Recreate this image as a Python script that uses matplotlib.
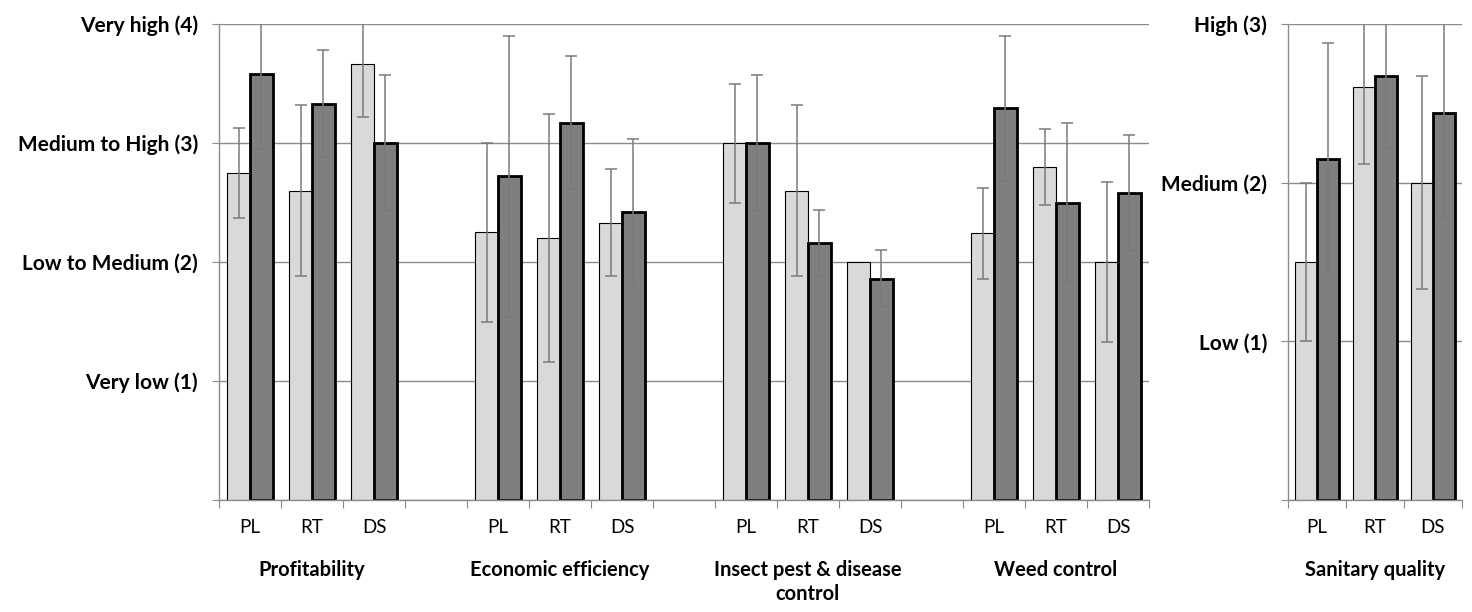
import numpy as np
import matplotlib
matplotlib.use("Agg")
import matplotlib.pyplot as plt

plt.rcParams['font.family'] = ['Lato', 'DejaVu Sans']

# Data (mean score and error, light/dark series)
groups = ['Profitability', 'Economic efficiency', 'Insect pest & disease\ncontrol', 'Weed control']
systems = ['PL', 'RT', 'DS']

light_mean = [2.75, 2.60, 3.66, 2.25, 2.20, 2.33, 3.00, 2.60, 2.00, 2.24, 2.80, 2.00]
light_err = [0.38, 0.72, 0.44, 0.75, 1.04, 0.45, 0.50, 0.72, 0.0, 0.38, 0.32, 0.67]
dark_mean = [3.58, 3.33, 3.00, 2.72, 3.17, 2.42, 3.00, 2.16, 1.86, 3.29, 2.50, 2.58]
dark_err = [0.63, 0.45, 0.57, 1.18, 0.56, 0.61, 0.57, 0.28, 0.24, 0.61, 0.67, 0.49]

left_levels = ['', 'Very low (1)', 'Low to Medium (2)', 'Medium to High (3)', 'Very high (4)']

san_light_mean = [1.50, 2.60, 2.00]
san_light_err = [0.50, 0.48, 0.67]
san_dark_mean = [2.15, 2.67, 2.44]
san_dark_err = [0.73, 0.45, 0.66]
san_label = 'Sanitary quality'
right_levels = ['', 'Low (1)', 'Medium (2)', 'High (3)']

light_col = '#d9d9d9'
dark_col = '#7f7f7f'
grid_col = '#8c8c8c'
err_col = '#7a7a7a'
W = 1472
H = 612


def style_axis(ax, ymax, levels, nslots):
    ax.set_ylim(0, ymax)
    ax.set_yticks(range(ymax + 1))
    ax.set_yticklabels(levels, fontsize=15, fontweight='bold')
    ax.set_xlim(-0.5, nslots - 0.5)
    ax.set_xticks(np.arange(-0.5, nslots, 1.0))
    ax.set_xticklabels([])
    ax.tick_params(axis='x', which='major', length=6, color=grid_col, direction='out')
    ax.tick_params(axis='y', length=5, color=grid_col, pad=10)
    ax.yaxis.grid(True, color=grid_col, lw=1)
    ax.set_axisbelow(True)
    for s in ['top', 'right']:
        ax.spines[s].set_visible(False)
    for s in ['left', 'bottom']:
        ax.spines[s].set_color(grid_col)
        ax.spines[s].set_linewidth(1)


def draw_pairs(ax, x, lm, le, dm, de, bw):
    lm, le, dm, de = map(np.asarray, (lm, le, dm, de))
    ax.bar(x - bw / 2, lm, bw, color=light_col, edgecolor='black', lw=0.8, zorder=2)
    ax.bar(x + bw / 2, dm, bw, color=dark_col, edgecolor='black', lw=2.0, zorder=2)
    m = le > 0
    ax.errorbar(x[m] - bw / 2, lm[m], yerr=le[m], fmt='none', ecolor=err_col,
                elinewidth=1.1, capsize=4.5, capthick=1.1, zorder=3)
    ax.errorbar(x + bw / 2, dm, yerr=de, fmt='none', ecolor=err_col,
                elinewidth=1.1, capsize=4.5, capthick=1.1, zorder=3)


fig = plt.figure(figsize=(W / 100, H / 100), dpi=100)

# Left panel
ax1 = fig.add_axes([219 / W, (H - 500) / H, (1149 - 219) / W, 476 / H])
x = np.array([g * 4 + s for g in range(len(groups)) for s in range(len(systems))], dtype=float)
draw_pairs(ax1, x, light_mean, light_err, dark_mean, dark_err, 0.37)
style_axis(ax1, 4, left_levels, 15)
ax1.set_xticks(x, systems * len(groups), minor=True)
ax1.tick_params(axis='x', which='minor', length=0, pad=14, labelsize=13.5)
for g, name in enumerate(groups):
    ax1.annotate(name, xy=(g * 4 + 1, -0.125), xycoords=('data', 'axes fraction'),
                 ha='center', va='top', fontsize=14.5, fontweight='bold', linespacing=1.25)

# Right panel
ax2 = fig.add_axes([1288 / W, (H - 500) / H, (1462 - 1288) / W, 476 / H])
x2 = np.arange(len(systems), dtype=float)
draw_pairs(ax2, x2, san_light_mean, san_light_err, san_dark_mean, san_dark_err, 0.38)
style_axis(ax2, 3, right_levels, 3)
ax2.set_xticks(x2, systems, minor=True)
ax2.tick_params(axis='x', which='minor', length=0, pad=14, labelsize=13.5)
ax2.annotate(san_label, xy=(1, -0.125), xycoords=('data', 'axes fraction'),
             ha='center', va='top', fontsize=14.5, fontweight='bold')

fig.savefig('out.png', dpi=100)
